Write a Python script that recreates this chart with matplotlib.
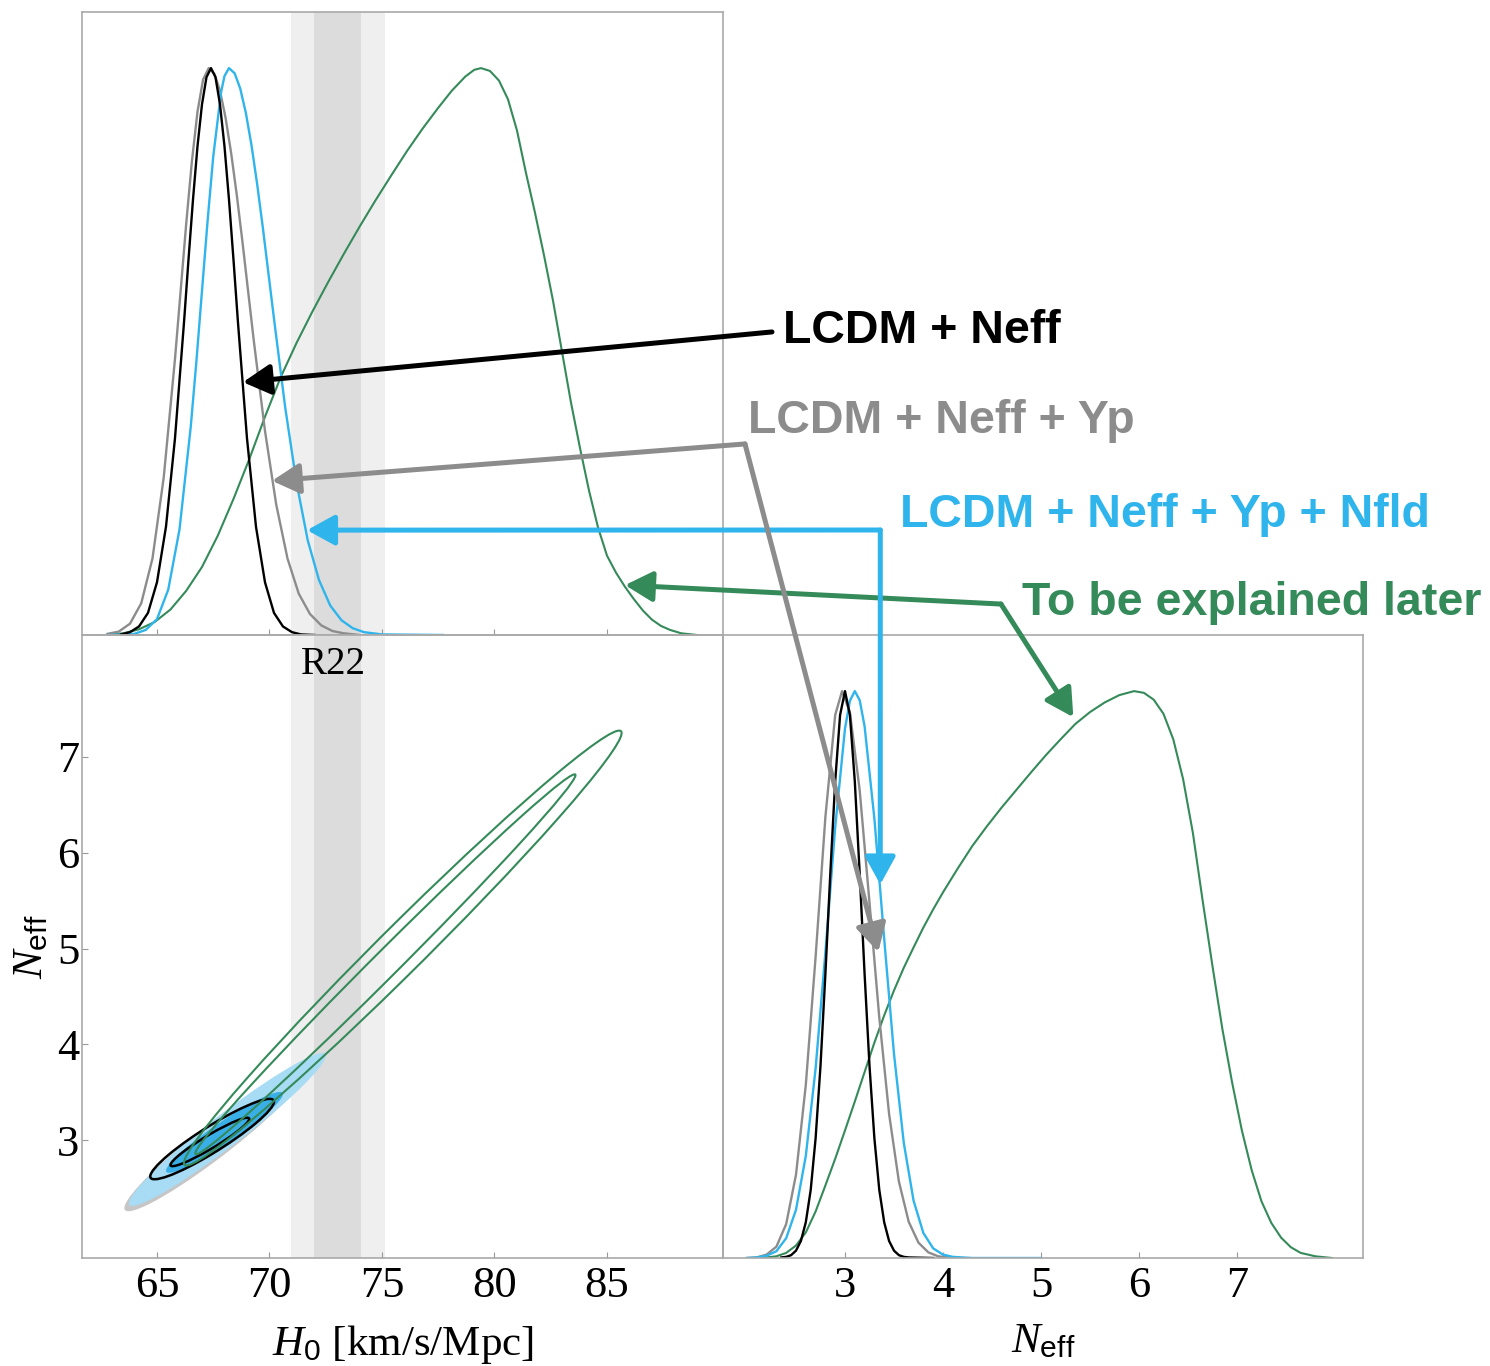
import numpy as np
import matplotlib
matplotlib.use("Agg")
import matplotlib.pyplot as plt
from matplotlib.patches import Ellipse
from matplotlib.transforms import Affine2D

plt.rcParams["font.family"] = ["Liberation Serif", "DejaVu Serif"]
plt.rcParams["mathtext.fontset"] = "custom"
plt.rcParams["mathtext.rm"] = "Liberation Serif"
plt.rcParams["mathtext.it"] = "Liberation Serif:italic"
plt.rcParams["mathtext.sf"] = "Liberation Sans"

BLACK = "#000000"
GRAY = "#8c8c8c"
BLUE = "#2fb4ec"
GREEN = "#358a5a"

# --- 1D posteriors in H0 (peak normalised to 1) ---
H0_BLACK = [63.4, 63.8, 64.2, 64.6, 65.0, 65.4, 65.8, 66.2, 66.4, 66.6, 66.8, 67.0, 67.2, 67.4,
            67.6, 67.8, 68.0, 68.2, 68.4, 68.6, 69.0, 69.4, 69.8, 70.2, 70.6, 71.0, 71.4, 72.0]
P_H0_BLACK = [0.001, 0.005, 0.015, 0.039, 0.093, 0.191, 0.347, 0.551, 0.662, 0.768, 0.862, 0.936, 0.984, 1.0,
              0.984, 0.936, 0.862, 0.768, 0.662, 0.551, 0.347, 0.191, 0.093, 0.039, 0.015, 0.005, 0.001, 0.0]

H0_GRAY = [62.8, 63.3, 63.8, 64.3, 64.8, 65.3, 65.8, 66.3, 66.55, 66.8, 67.05, 67.3, 67.55, 67.8,
           68.05, 68.3, 68.55, 68.8, 69.3, 69.8, 70.3, 70.8, 71.3, 71.8, 72.3, 72.8, 73.3, 74.0]
P_H0_GRAY = [0.002, 0.006, 0.020, 0.056, 0.135, 0.278, 0.487, 0.726, 0.835, 0.923, 0.980, 1.0, 0.990, 0.960,
             0.912, 0.849, 0.775, 0.693, 0.520, 0.360, 0.230, 0.135, 0.073, 0.037, 0.017, 0.007, 0.003, 0.0]

H0_BLUE = [62.8, 63.5, 64.0, 64.5, 65.0, 65.5, 66.0, 66.5, 66.75, 67.0, 67.25, 67.5, 67.85, 68.0,
           68.2, 68.45, 68.7, 68.95, 69.2, 69.45, 69.7, 70.2, 70.7, 71.2, 71.7, 72.2, 72.7, 73.2,
           73.7, 74.2, 75.0, 77.7]
P_H0_BLUE = [0.0, 0.001, 0.002, 0.009, 0.028, 0.080, 0.186, 0.367, 0.482, 0.607, 0.731, 0.844, 0.958, 0.986,
             1.0, 0.991, 0.964, 0.921, 0.864, 0.796, 0.720, 0.558, 0.401, 0.269, 0.167, 0.097, 0.052, 0.026,
             0.012, 0.005, 0.001, 0.0]

H0_GREEN = [62.8, 63.5, 64.2, 64.9, 65.6, 66.3, 67.0, 67.7, 68.4, 69.1, 69.8, 70.5, 71.2, 71.9,
            72.6, 73.3, 74.0, 74.7, 75.4, 76.1, 76.8, 77.5, 78.1, 78.7, 79.1, 79.4, 79.8, 80.2,
            80.6, 81.0, 81.4, 81.8, 82.2, 82.6, 83.0, 83.4, 83.8, 84.2, 84.6, 85.0, 85.4, 85.8,
            86.2, 86.6, 87.0, 87.4, 87.8, 88.3, 89.0]
P_H0_GREEN = [0.0, 0.003, 0.010, 0.023, 0.045, 0.078, 0.120, 0.175, 0.240, 0.310, 0.385, 0.455, 0.515, 0.570,
              0.622, 0.672, 0.720, 0.766, 0.810, 0.853, 0.893, 0.930, 0.960, 0.985, 0.997, 1.0, 0.995, 0.978,
              0.945, 0.890, 0.815, 0.745, 0.670, 0.590, 0.500, 0.410, 0.330, 0.255, 0.190, 0.140, 0.110, 0.085,
              0.063, 0.043, 0.027, 0.016, 0.009, 0.003, 0.0]

# --- 1D posteriors in Neff ---
NEFF_BLACK = [2.35, 2.4, 2.45, 2.5, 2.55, 2.6, 2.65, 2.7, 2.75, 2.8, 2.85, 2.9, 2.95, 3.0,
              3.05, 3.1, 3.15, 3.2, 3.25, 3.3, 3.35, 3.4, 3.45, 3.5, 3.55, 3.6, 3.65, 3.9]
P_NEFF_BLACK = [0.001, 0.002, 0.005, 0.013, 0.030, 0.063, 0.120, 0.211, 0.339, 0.501, 0.678, 0.841, 0.958, 1.0,
                0.958, 0.841, 0.678, 0.501, 0.339, 0.211, 0.120, 0.063, 0.030, 0.013, 0.005, 0.002, 0.001, 0.0]

NEFF_GRAY = [2.0, 2.1, 2.2, 2.3, 2.4, 2.5, 2.6, 2.7, 2.8, 2.9, 2.97, 3.05, 3.15, 3.25, 3.35,
             3.45, 3.55, 3.65, 3.75, 3.85, 3.95, 4.1]
P_NEFF_GRAY = [0.0, 0.001, 0.006, 0.020, 0.060, 0.147, 0.305, 0.531, 0.778, 0.958, 1.0, 0.963, 0.825,
               0.627, 0.424, 0.254, 0.135, 0.064, 0.027, 0.010, 0.003, 0.0]

NEFF_BLUE = [2.0, 2.1, 2.2, 2.3, 2.4, 2.5, 2.6, 2.7, 2.8, 2.9, 3.0, 3.05, 3.1, 3.15, 3.2, 3.3,
             3.4, 3.5, 3.6, 3.7, 3.8, 3.9, 4.0, 4.1, 4.3, 5.0]
P_NEFF_BLUE = [0.0, 0.001, 0.004, 0.012, 0.035, 0.085, 0.180, 0.334, 0.539, 0.760, 0.934, 0.983, 1.0,
               0.984, 0.938, 0.775, 0.563, 0.360, 0.203, 0.101, 0.044, 0.017, 0.006, 0.002, 0.0, 0.0]

NEFF_GREEN = [2.15, 2.3, 2.4, 2.5, 2.6, 2.7, 2.8, 2.9, 3.0, 3.1, 3.2, 3.3, 3.4, 3.5, 3.6, 3.7,
              3.8, 3.9, 4.0, 4.15, 4.3, 4.45, 4.6, 4.75, 4.9, 5.05, 5.2, 5.35, 5.5, 5.65, 5.8,
              5.95, 6.05, 6.15, 6.25, 6.35, 6.45, 6.55, 6.65, 6.75, 6.85, 6.95, 7.05, 7.15, 7.25,
              7.35, 7.45, 7.55, 7.65, 7.8, 7.97]
P_NEFF_GREEN = [0.0, 0.003, 0.009, 0.022, 0.045, 0.082, 0.128, 0.175, 0.225, 0.276, 0.328, 0.380, 0.428,
                0.472, 0.512, 0.548, 0.583, 0.615, 0.645, 0.687, 0.727, 0.762, 0.795, 0.826, 0.857, 0.887,
                0.915, 0.942, 0.963, 0.980, 0.993, 1.0, 0.997, 0.985, 0.960, 0.915, 0.845, 0.750, 0.630,
                0.515, 0.405, 0.310, 0.225, 0.155, 0.100, 0.062, 0.036, 0.019, 0.009, 0.003, 0.0]

# --- 2D contours: (H0, Neff) of both tips, then vertical Neff width through the centre ---
GREEN_OUTER = [66.2, 2.76, 85.65, 7.25, 0.68]
GREEN_INNER = [66.7, 2.86, 83.6, 6.81, 0.38]
GRAY_OUTER = [63.55, 2.29, 71.6, 3.70, 0.44]
BLUE_OUTER = [63.75, 2.34, 72.5, 3.88, 0.42]
BLUE_INNER = [65.4, 2.68, 70.6, 3.48, 0.27]
BLACK_OUTER = [64.7, 2.62, 70.2, 3.40, 0.31]
BLACK_INNER = [65.6, 2.74, 69.1, 3.22, 0.16]

# R22 local H0
R22_MEAN = 73.04
R22_SIGMA = 1.04

H0_TICKS = [65, 70, 75, 80, 85]
NEFF_TICKS = [3, 4, 5, 6, 7]

LABELS = ["LCDM + Neff", "LCDM + Neff + Yp", "LCDM + Neff + Yp + Nfld", "To be explained later"]

# arrow tips: (H0, p) in the H0 panel, (Neff, p) in the Neff panel
TIP_H0_BLACK = (68.82, 0.446)
TIP_H0_GRAY = (70.11, 0.272)
TIP_H0_BLUE = (71.67, 0.185)
TIP_H0_GREEN = (85.8, 0.088)
TIP_NEFF_GRAY = (3.34, 0.54)
TIP_NEFF_BLUE = (3.36, 0.659)
TIP_NEFF_GREEN = (5.33, 0.954)


def contour(ax, spec, **kw):
    ha, na, hb, nb, h = spec
    cx, cy = (ha + hb) / 2, (na + nb) / 2
    ux, uy = (hb - ha) / 2, (nb - na) / 2
    mat = np.array([[ux, 0.0, cx], [uy, h / 2, cy], [0.0, 0.0, 1.0]])
    e = Ellipse((0, 0), 2, 2, transform=Affine2D(mat) + ax.transData, **kw)
    ax.add_patch(e)


def style_axes(ax):
    for s in ax.spines.values():
        s.set_color("#a9a9a9")
        s.set_linewidth(1.2)
    ax.tick_params(direction="in", length=4, width=0.8, color="#999999",
                   labelsize=32, pad=6)


def arrow(ax, tip, tail, color):
    ax.annotate("", xy=tip, xycoords="data", xytext=tail, textcoords="figure fraction",
                annotation_clip=False, zorder=20,
                arrowprops=dict(arrowstyle="-|>,head_length=0.4,head_width=0.22",
                                color=color, lw=3.6, shrinkA=0, shrinkB=0,
                                mutation_scale=42, capstyle="round", joinstyle="round"))


fig = plt.figure(figsize=(14.9, 13.66), dpi=100)
ax_tl = fig.add_axes([0.05503, 0.53514, 0.43020, 0.45608])
ax_bl = fig.add_axes([0.05503, 0.07906, 0.43020, 0.45608])
ax_br = fig.add_axes([0.48523, 0.07906, 0.42953, 0.45608])
for ax in (ax_tl, ax_bl, ax_br):
    ax.patch.set_alpha(0)

H0_LIM = (61.667, 90.156)
P_LIM = (0, 1.099)

# R22 bands
for ax in (ax_tl, ax_bl):
    ax.axvspan(R22_MEAN - 2 * R22_SIGMA, R22_MEAN + 2 * R22_SIGMA, color="#efefef", lw=0, zorder=0)
    ax.axvspan(R22_MEAN - R22_SIGMA, R22_MEAN + R22_SIGMA, color="#dcdcdc", lw=0, zorder=0)

# top-left: H0 marginals
ax_tl.plot(H0_GREEN, P_H0_GREEN, color=GREEN, lw=1.5)
ax_tl.plot(H0_GRAY, P_H0_GRAY, color=GRAY, lw=1.7)
ax_tl.plot(H0_BLUE, P_H0_BLUE, color=BLUE, lw=1.7)
ax_tl.plot(H0_BLACK, P_H0_BLACK, color=BLACK, lw=1.7)
ax_tl.set_xlim(*H0_LIM)
ax_tl.set_ylim(*P_LIM)
ax_tl.set_xticks(H0_TICKS)
ax_tl.set_xticklabels([])
ax_tl.set_yticks([])
style_axes(ax_tl)

# bottom-left: 2D
contour(ax_bl, GRAY_OUTER, facecolor="#c6c6c6", edgecolor="none", zorder=2)
contour(ax_bl, BLUE_OUTER, facecolor="#a8dbf4", edgecolor="none", zorder=3)
contour(ax_bl, BLUE_INNER, facecolor="#3aafe7", edgecolor="none", zorder=4)
contour(ax_bl, BLACK_OUTER, facecolor="none", edgecolor=BLACK, lw=1.8, zorder=5)
contour(ax_bl, BLACK_INNER, facecolor="none", edgecolor=BLACK, lw=1.8, zorder=5)
contour(ax_bl, GREEN_OUTER, facecolor="none", edgecolor=GREEN, lw=1.5, zorder=6)
contour(ax_bl, GREEN_INNER, facecolor="none", edgecolor=GREEN, lw=1.5, zorder=6)
ax_bl.set_xlim(*H0_LIM)
ax_bl.set_ylim(1.768, 8.274)
ax_bl.set_xticks(H0_TICKS)
ax_bl.set_xticklabels([str(t) for t in H0_TICKS])
ax_bl.set_yticks(NEFF_TICKS)
ax_bl.set_yticklabels([str(t) for t in NEFF_TICKS])
style_axes(ax_bl)
ax_bl.tick_params(axis="y", pad=2)
ax_bl.set_xlabel(r"$H_{\mathsf{0}}$ [km/s/Mpc]", fontsize=31, labelpad=12)
ax_bl.set_ylabel(r"$N_{\mathsf{eff}}$", fontsize=31, labelpad=4)
ax_bl.text(R22_MEAN - 0.2, 0.952, "R22", transform=ax_bl.get_xaxis_transform(),
           ha="center", va="center", fontsize=28, zorder=7)

# bottom-right: Neff marginals
ax_br.plot(NEFF_GREEN, P_NEFF_GREEN, color=GREEN, lw=1.5)
ax_br.plot(NEFF_GRAY, P_NEFF_GRAY, color=GRAY, lw=1.7)
ax_br.plot(NEFF_BLUE, P_NEFF_BLUE, color=BLUE, lw=1.7)
ax_br.plot(NEFF_BLACK, P_NEFF_BLACK, color=BLACK, lw=1.7)
ax_br.set_xlim(1.755, 8.286)
ax_br.set_ylim(*P_LIM)
ax_br.set_xticks(NEFF_TICKS)
ax_br.set_xticklabels([str(t) for t in NEFF_TICKS])
ax_br.set_yticks([])
style_axes(ax_br)
ax_br.set_xlabel(r"$N_{\mathsf{eff}}$", fontsize=31, labelpad=12)

# labels and arrows
colors = [BLACK, GRAY, BLUE, GREEN]
label_pos = [(0.5255, 0.7489), (0.5020, 0.6830), (0.6040, 0.6142), (0.6859, 0.5498)]
for text, c, (x, y) in zip(LABELS, colors, label_pos):
    fig.text(x, y, text, color=c, fontsize=33.5, fontweight="bold",
             family=["Liberation Sans", "DejaVu Sans"], ha="left", va="baseline")

arrow(ax_tl, TIP_H0_BLACK, (0.5181, 0.7570), BLACK)
gray_joint = (0.5000, 0.6750)
arrow(ax_tl, TIP_H0_GRAY, gray_joint, GRAY)
arrow(ax_br, TIP_NEFF_GRAY, gray_joint, GRAY)
blue_joint = (0.5908, 0.6120)
arrow(ax_tl, TIP_H0_BLUE, blue_joint, BLUE)
arrow(ax_br, TIP_NEFF_BLUE, blue_joint, BLUE)
green_joint = (0.6718, 0.5578)
arrow(ax_tl, TIP_H0_GREEN, green_joint, GREEN)
arrow(ax_br, TIP_NEFF_GREEN, green_joint, GREEN)

fig.savefig("out.png", dpi=100)
